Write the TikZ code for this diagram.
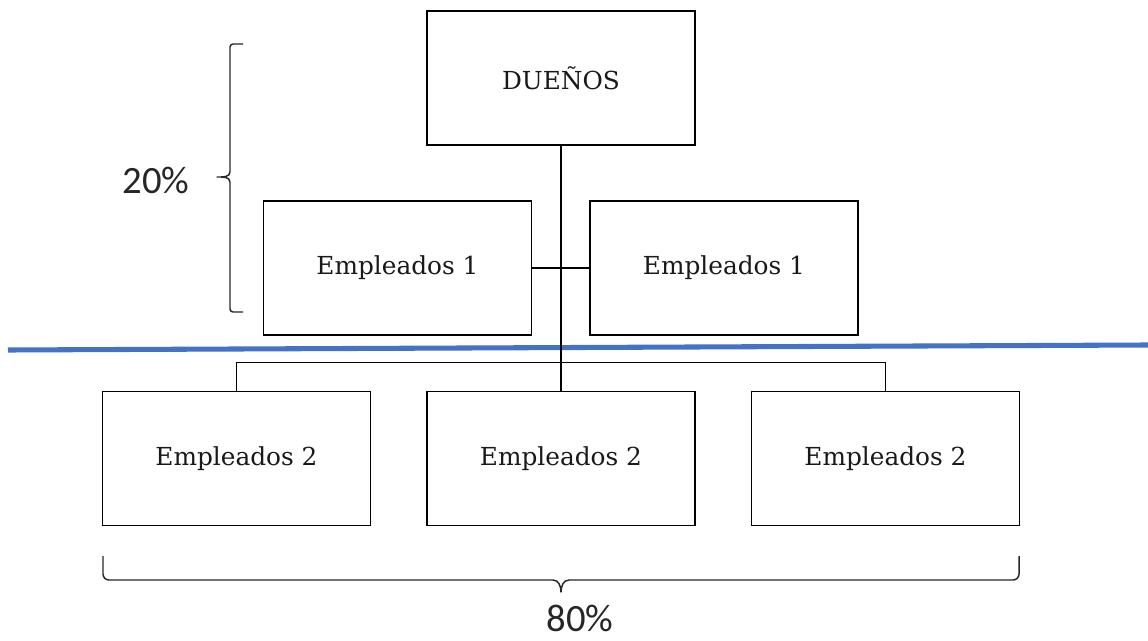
\documentclass[tikz,border=0pt]{standalone}
\usepackage{fontspec}
\setmainfont{DejaVu Serif}
\newfontfamily\pctfont{Carlito}
\begin{document}
\begin{tikzpicture}[x=0.75pt,y=-0.75pt,
  orgbox/.style={draw=black,line width=1.2pt,minimum width=201pt,minimum height=100.5pt,
    inner sep=0pt,font=\fontsize{18.6}{22}\selectfont,text=black!90},
  link/.style={draw=black,line width=1.1pt},
  bracket/.style={draw=black!85,line width=1.1pt,line join=round},
  pct/.style={font=\pctfont\fontsize{29}{34}\selectfont,text=black!85,inner sep=0pt}]
\useasboundingbox (0,0) rectangle (1148,641);

% dividing line
\draw[line width=3.8pt,draw={rgb,255:red,68;green,114;blue,196}] (8,350) -- (1148,345);

% boxes
\node[orgbox] (d)   at (561,78)    {DUEÑOS};
\node[orgbox] (e1l) at (397.5,268) {Empleados 1};
\node[orgbox] (e1r) at (724,268)   {Empleados 1};
\node[orgbox] (e2a) at (236.5,458.5) {Empleados 2};
\node[orgbox] (e2b) at (561,458.5)   {Empleados 2};
\node[orgbox] (e2c) at (885.5,458.5) {Empleados 2};

% connectors
\draw[link] (d.south) -- (e2b.north);
\draw[link] (e1l.east) -- (e1r.west);
\draw[link] (e2a.north) -- ++(0,-28) -| (e2c.north);

% left bracket
\draw[bracket] (243,44) -- (233,44) to[out=180,in=90] (230,47) -- (230,172)
  to[out=-90,in=0] (217,177) to[out=0,in=90] (230,182) -- (230,309)
  to[out=-90,in=180] (233,312) -- (243,312);
\node[pct] (p20) at (156,180) {20\%};

% bottom bracket
\draw[bracket] (103,556) -- (103,574) to[out=-90,in=180] (109,580) -- (553,580)
  to[out=0,in=90] (561,592) to[out=90,in=180] (569,580) -- (1013,580)
  to[out=0,in=-90] (1019,574) -- (1019,556);
\node[pct] (p80) at (580,618) {80\%};
\end{tikzpicture}
\end{document}
